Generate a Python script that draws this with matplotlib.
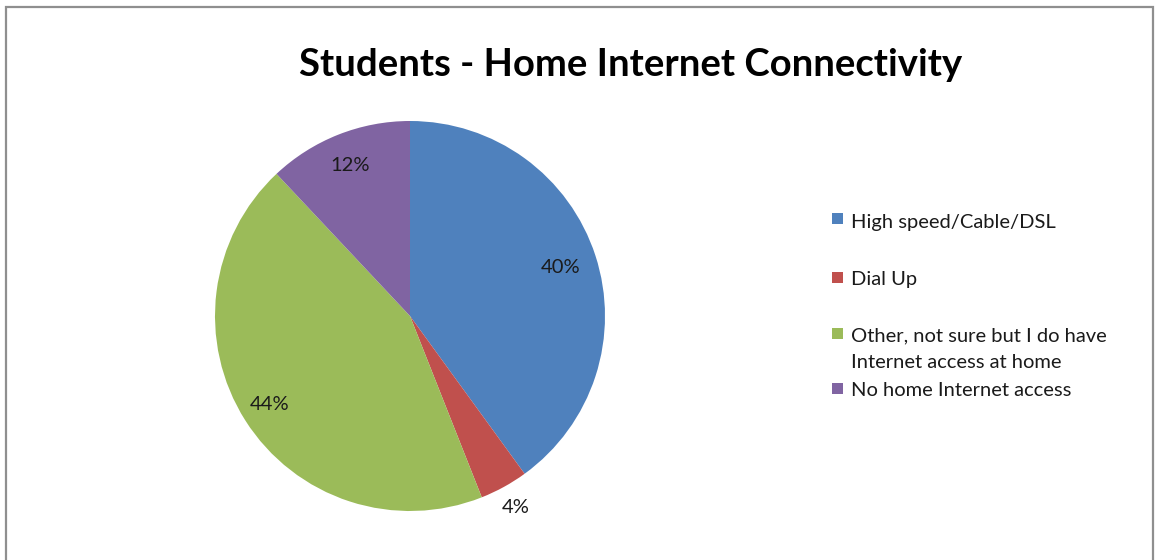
import matplotlib
matplotlib.use("Agg")
import matplotlib.pyplot as plt
from matplotlib.patches import Rectangle
import numpy as np

plt.rcParams["font.family"] = ["Lato", "DejaVu Sans"]

TITLE = "Students - Home Internet Connectivity"
categories = [
    "High speed/Cable/DSL",
    "Dial Up",
    "Other, not sure but I do have\nInternet access at home",
    "No home Internet access",
]
shares = [40, 4, 44, 12]
colors = ["#4F81BD", "#C0504D", "#9BBB59", "#8064A2"]

# distance of each percentage label from the centre (radius = 1)
label_dist = [0.81, 1.12, 0.85, 0.83]

W, H = 1155, 560
fig = plt.figure(figsize=(W / 100, H / 100), dpi=100)

# outer chart frame
fig.add_artist(Rectangle((6 / W, -0.05), (1153 - 6) / W, 1.05 - 7 / H,
                         transform=fig.transFigure, fill=False,
                         edgecolor="#8f8f8f", linewidth=1.6))

cx, cy, r = 410, 316, 195
ax = fig.add_axes([(cx - r) / W, 1 - (cy + r) / H, 2 * r / W, 2 * r / H])
wedges, _ = ax.pie(shares, colors=colors, startangle=90, counterclock=False,
                   radius=1.0, wedgeprops=dict(linewidth=0))
ax.set_xlim(-1, 1)
ax.set_ylim(-1, 1)
ax.axis("off")

for w, v, d in zip(wedges, shares, label_dist):
    mid = np.deg2rad((w.theta1 + w.theta2) / 2)
    ax.text(d * np.cos(mid), d * np.sin(mid), f"{v}%", ha="center",
            va="center", fontsize=14.5, color="#1a1a1a")

fig.text(631 / W, 1 - 76 / H, TITLE, ha="center", va="baseline",
         fontsize=27.5, fontweight="bold", color="black")

# legend, laid out by hand (pixel rows of baseline and swatch top)
text_base = [228, 285, 341, 396]
swatch_top = [213, 272, 328, 383]
for c, lab, yb, ys in zip(colors, categories, text_base, swatch_top):
    fig.add_artist(Rectangle((832 / W, 1 - (ys + 11) / H), 11 / W, 11 / H,
                             transform=fig.transFigure, facecolor=c,
                             edgecolor="none"))
    lines = lab.split("\n")
    for i, line in enumerate(lines):
        fig.text(851 / W, 1 - (yb + 27 * i) / H, line, ha="left",
                 va="baseline", fontsize=14.5, color="#1a1a1a")

fig.savefig("out.png", dpi=100, facecolor="white")
